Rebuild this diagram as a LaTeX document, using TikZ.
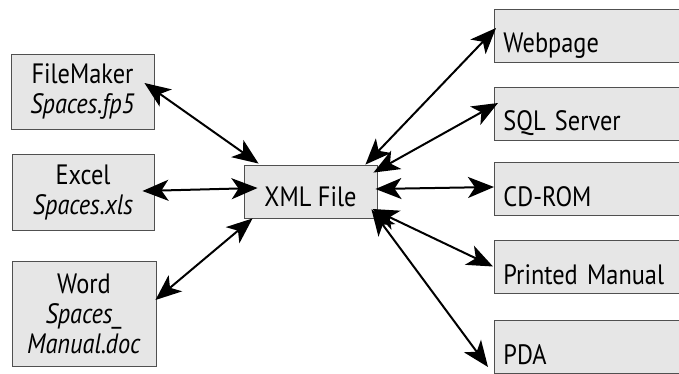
\documentclass[tikz,border=0pt]{standalone}
\usepackage{fontspec}
\setmainfont{PT Sans}[FakeStretch=0.87]
\usetikzlibrary{arrows.meta,positioning}
\definecolor{boxgray}{HTML}{E6E6E6}
\definecolor{edgegray}{HTML}{505050}
\tikzset{
  box/.style={draw=edgegray, line width=0.9pt, fill=boxgray, inner sep=0pt},
  srcbox/.style={box, align=center},
  outbox/.style={box, anchor=west, text width=182pt, align=left,
    text height=37pt, text depth=2pt, inner xsep=9pt, inner ysep=7pt},
  link/.style={line width=2pt,
    {Stealth[length=26pt,width=21pt,inset=7pt]}-{Stealth[length=26pt,width=21pt,inset=7pt]}}
}
\begin{document}
\begin{tikzpicture}[x=1pt, y=-1pt, font=\fontsize{28}{30}\selectfont]
  \useasboundingbox (0,0) rectangle (679,374);
  % sources
  \node[srcbox, minimum width=143pt, minimum height=75pt] (fm) at (82.5,91.5) {FileMaker\\\textit{Spaces.fp5}};
  \node[srcbox, minimum width=142pt, minimum height=76pt] (xls) at (83,192) {Excel\\\textit{Spaces.xls}};
  \node[srcbox, minimum width=144pt, minimum height=105pt] (word) at (84,313.5) {Word\\\textit{Spaces\_}\\\textit{Manual.doc}};
  % hub
  \node[box, minimum width=133pt, minimum height=53pt, text height=30pt] (xml) at (310.5,191.5) {XML File};
  % targets
  \foreach \n/\y/\t in {web/35.5/Webpage, sql/113.5/SQL Server, cd/189/CD-ROM,
                        pm/266.5/Printed Manual, pda/347/PDA}
    \node[outbox] (\n) at (494,\y) {\t};
  % links in
  \draw[link] ([shift={(-10,-8.5)}]fm.east) -- ([shift={(15,-1)}]xml.north west);
  \draw[link] ([shift={(-12,-1)}]xls.east) -- ([shift={(14,-3.5)}]xml.west);
  \draw[link] ([shift={(-1,-13.5)}]word.east) -- ([shift={(9,0)}]xml.south west);
  % links out
  \draw[link] ([shift={(-12,0)}]xml.north east) -- ([shift={(2,-7.5)}]web.west);
  \draw[link] ([shift={(-4,8)}]xml.north east) -- ([shift={(4,-10.5)}]sql.west);
  \draw[link] ([shift={(-2,-2.5)}]xml.east) -- ([shift={(0,-2)}]cd.west);
  \draw[link] ([shift={(-5,17.5)}]xml.east) -- ([shift={(-1,0)}]pm.west);
  \draw[link] ([shift={(-6,-9)}]xml.south east) -- ([shift={(-6,20)}]pda.west);
\end{tikzpicture}
\end{document}
